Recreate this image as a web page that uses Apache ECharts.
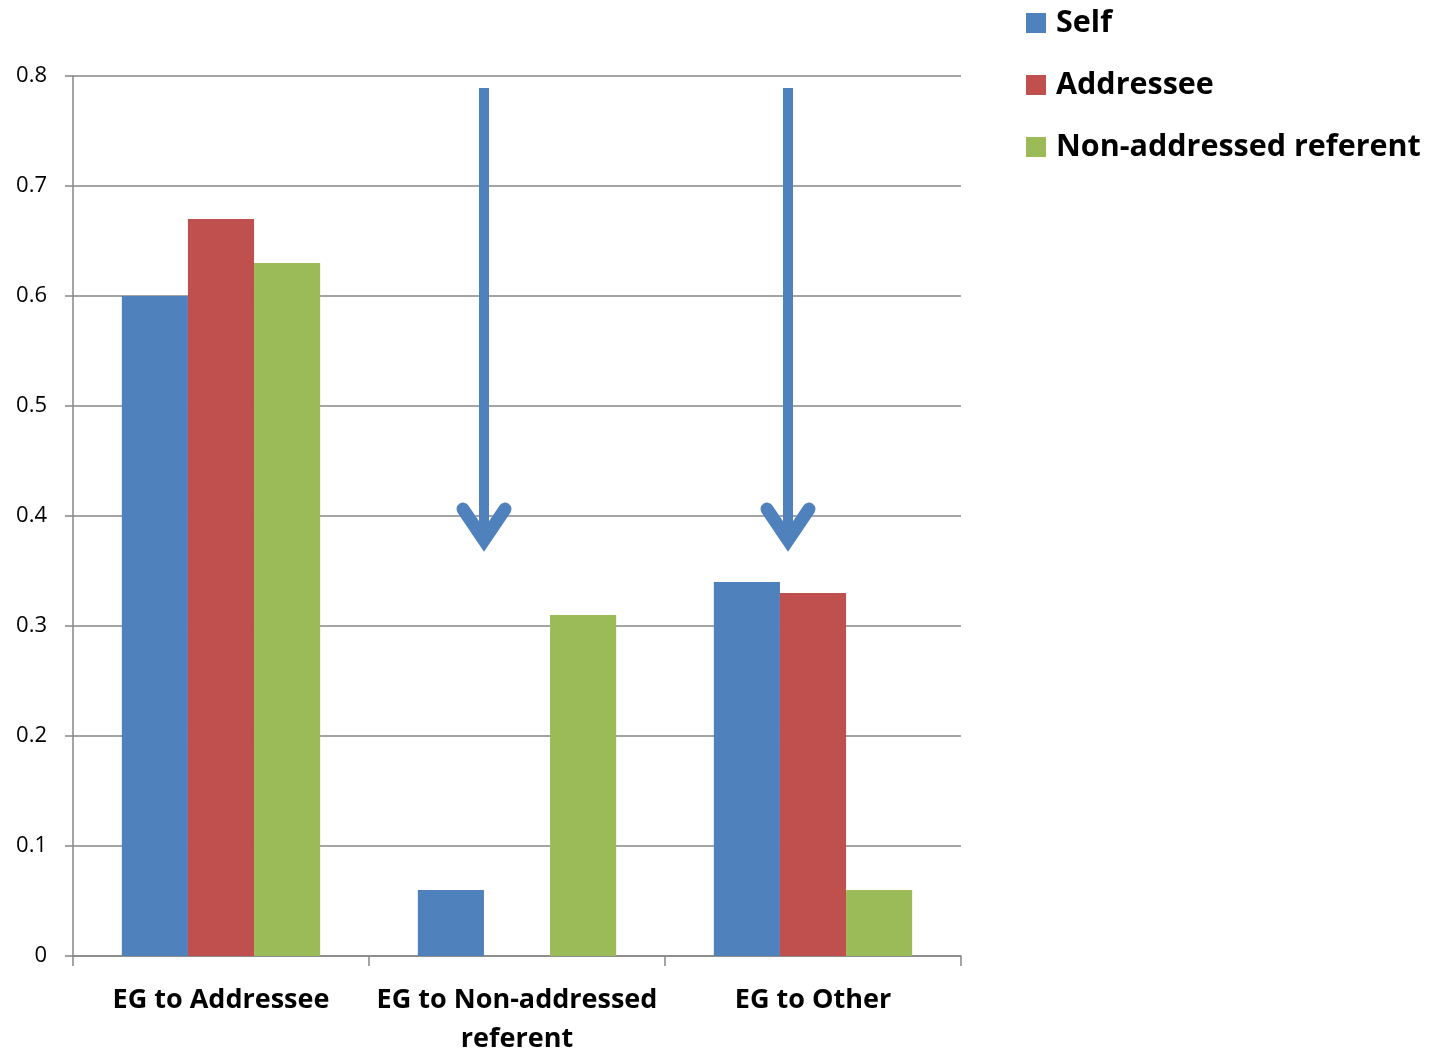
<!DOCTYPE html>
<html>
<head>
<meta charset="utf-8">
<script src="https://cdn.jsdelivr.net/npm/echarts@6/dist/echarts.min.js"></script>
<style>
  html, body { margin: 0; padding: 0; background: #fff; }
  #chart { width: 1433px; height: 1052px; }
</style>
</head>
<body>
<div id="chart"></div>
<script>
// Categories and series values
const categories = ['EG to Addressee', 'EG to Non-addressed\nreferent', 'EG to Other'];
const selfValues = [0.60, 0.06, 0.34];
const addresseeValues = [0.67, null, 0.33];
const nonAddressedValues = [0.63, 0.31, 0.06];
const yTicks = [0, 0.1, 0.2, 0.3, 0.4, 0.5, 0.6, 0.7, 0.8];

const FONT = '"Open Sans", "Liberation Sans", sans-serif';
const chart = echarts.init(document.getElementById('chart'));

const option = {
  animation: false,
  backgroundColor: '#ffffff',
  grid: { left: 73, right: 472, top: 76, bottom: 96, containLabel: false, outerBoundsMode: 'none' },
  legend: {
    orient: 'vertical',
    left: 1026,
    top: 7,
    padding: 0,
    itemWidth: 20,
    itemHeight: 20,
    itemGap: 30,
    icon: 'rect',
    textStyle: { fontFamily: FONT, fontSize: 30.5, fontWeight: 'bold', color: '#000', lineHeight: 32,
      padding: [0, 0, 0, 5] },
    data: ['Self', 'Addressee', 'Non-addressed referent']
  },
  xAxis: {
    type: 'category',
    data: categories,
    axisLine: { lineStyle: { color: '#868686', width: 1.5 } },
    axisTick: { show: true, interval: 0, length: 10, lineStyle: { color: '#868686', width: 1.5 } },
    axisLabel: {
      interval: 0,
      fontFamily: FONT, fontSize: 27, fontWeight: 'bold', color: '#000',
      margin: 25, lineHeight: 39
    }
  },
  yAxis: {
    type: 'value',
    min: yTicks[0],
    max: yTicks[yTicks.length - 1],
    interval: 0.1,
    axisLine: { show: true, lineStyle: { color: '#868686', width: 1.5 } },
    axisTick: { show: true, length: 8, lineStyle: { color: '#868686', width: 1.5 } },
    splitLine: { lineStyle: { color: '#868686', width: 1.5 } },
    axisLabel: {
      fontFamily: FONT, fontSize: 22, color: '#000', margin: 26,
      formatter: v => (Math.round(v * 10) / 10).toString()
    }
  },
  series: [
    { name: 'Self', type: 'bar', data: selfValues, barGap: '0%', barCategoryGap: '33%',
      itemStyle: { color: '#4F81BD' } },
    { name: 'Addressee', type: 'bar', data: addresseeValues,
      itemStyle: { color: '#C0504D' } },
    { name: 'Non-addressed referent', type: 'bar', data: nonAddressedValues,
      itemStyle: { color: '#9BBB59' } }
  ]
};
chart.setOption(option);

// Downward arrows over the second and third groups
function arrow(catIndex, dx) {
  const top = chart.convertToPixel({ gridIndex: 0 }, [catIndex, 0.789]);
  const tip = chart.convertToPixel({ gridIndex: 0 }, [catIndex, 0.369]);
  const x = top[0] + dx;
  const y0 = top[1], y1 = tip[1];
  const c = '#4F81BD';
  return [
    { type: 'line', shape: { x1: x, y1: y0, x2: x, y2: y1 - 10 },
      style: { stroke: c, lineWidth: 10, lineCap: 'butt' } },
    { type: 'polyline', shape: { points: [[x - 21, y1 - 41], [x, y1 - 10], [x + 21, y1 - 41]] },
      style: { stroke: c, lineWidth: 13, lineCap: 'round', lineJoin: 'miter', fill: null } },
    { type: 'polygon', shape: { points: [[x - 13, y1 - 18], [x, y1], [x + 13, y1 - 18]] },
      style: { fill: c } }
  ];
}
chart.setOption({ graphic: [].concat(arrow(1, -33), arrow(2, -25)) });
</script>
</body>
</html>
